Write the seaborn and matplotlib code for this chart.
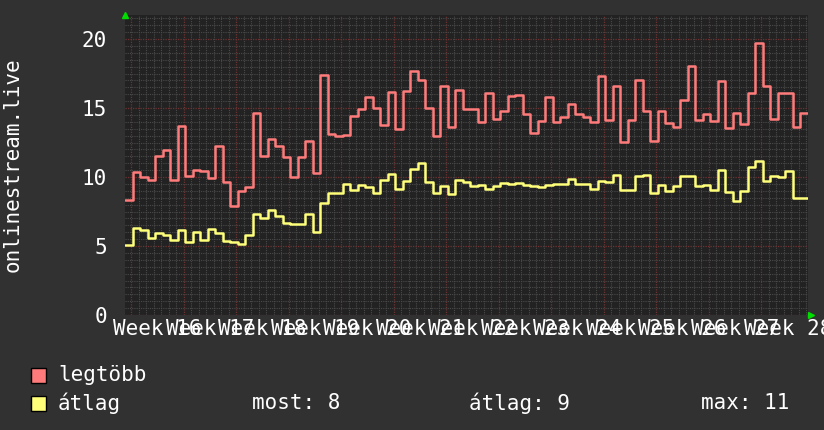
import numpy as np
import pandas as pd
import matplotlib
matplotlib.use("Agg")
import matplotlib.pyplot as plt
from matplotlib.patches import Rectangle
import seaborn as sns

# daily values (13 weeks, 91 days)
legtobb = [8.33, 10.34, 10.02, 9.78, 11.52, 11.96, 9.78, 13.7, 10.07, 10.5, 10.43, 9.95, 12.25, 9.66, 7.92,
           9.0, 9.3, 14.66, 11.52, 12.78, 12.25, 11.47, 10.02, 11.43, 12.63, 10.31, 17.4, 13.1, 12.97, 13.07,
           14.42, 14.9, 15.82, 14.98, 13.74, 16.16, 13.5, 16.26, 17.7, 17.03, 15.0, 12.97, 16.6, 13.6, 16.3, 14.93,
           14.95, 13.99, 16.11, 14.23, 14.76, 15.87, 15.97, 14.57, 13.21, 14.08, 15.82, 13.99, 14.32, 15.29, 14.57,
           14.37, 14.01, 17.32, 14.13, 16.6, 12.54, 14.13, 17.03, 14.81, 12.63, 14.81, 13.94, 13.65, 15.58, 18.04,
           14.13, 14.57, 14.08, 16.98, 13.55, 14.66, 13.84, 16.06, 19.73, 16.62, 14.23, 16.11, 16.06, 13.65, 14.66]
atlag = [5.07, 6.3, 6.16, 5.6, 5.97, 5.82, 5.43, 6.16, 5.27, 6.01, 5.43, 6.26, 5.97, 5.39, 5.27,
         5.17, 5.82, 7.29, 7.03, 7.61, 7.2, 6.64, 6.57, 6.57, 7.29, 5.99, 8.12, 8.86, 8.86, 9.49,
         9.06, 9.42, 9.25, 8.82, 9.78, 10.22, 9.13, 9.73, 10.56, 11.01, 9.64, 8.86, 9.37, 8.79, 9.78, 9.66,
         9.35, 9.44, 9.15, 9.35, 9.59, 9.49, 9.59, 9.42, 9.35, 9.28, 9.44, 9.49, 9.52, 9.88, 9.49,
         9.49, 9.15, 9.71, 9.64, 10.14, 9.06, 9.06, 10.1, 10.14, 8.82, 9.42, 9.01, 9.37, 10.07, 10.07,
         9.35, 9.4, 9.06, 10.51, 8.91, 8.29, 8.99, 10.7, 11.16, 9.71, 10.1, 10.02, 10.43, 8.48, 8.48]
week_labels = ["Week %d" % w for w in range(16, 29)]
yticks = [0, 5, 10, 15, 20]
legend_stats = ["most: 8", "átlag: 9", "max: 11"]

RED = "#ff7b7b"
YEL = "#ffff7a"
BG = "#313131"
PLOT_BG = "#222222"
MONO = "DejaVu Sans Mono"

# long table for seaborn, last value repeated so the final step is drawn
n = len(legtobb)
days = np.arange(n + 1)
df = pd.concat([
    pd.DataFrame({"day": days, "value": legtobb + [legtobb[-1]], "series": "legtöbb"}),
    pd.DataFrame({"day": days, "value": atlag + [atlag[-1]], "series": "átlag"}),
])

sns.set_style("dark")
plt.rcParams["font.family"] = [MONO, "DejaVu Sans"]

fig = plt.figure(figsize=(8.24, 4.30), dpi=100, facecolor=BG)
ax = fig.add_axes([125 / 824, 1 - 315 / 430, 683 / 824, 300 / 430])
ax.set_facecolor(PLOT_BG)

sns.lineplot(data=df, x="day", y="value", hue="series", palette=[RED, YEL],
             estimator=None, drawstyle="steps-post", linewidth=1.8, legend=False, ax=ax, zorder=3)

ax.set_xlim(0, n)
ax.set_ylim(0, 21.74)

# grid: days / half units minor, weeks / 5 units major
offset = 0.8
ax.set_xticks(np.arange(offset, n, 7))
ax.set_xticks(np.arange(offset, n, 1), minor=True)
ax.set_yticks(yticks)
ax.set_yticks(np.arange(0, 21.74, 0.5), minor=True)
ax.grid(which="minor", color="#4a4a4a", linestyle=(0, (1, 1)), linewidth=0.8, zorder=0)
ax.grid(which="major", color="#6e3232", linestyle=(0, (1, 1)), linewidth=0.9, zorder=1)
ax.set_axisbelow(True)
ax.tick_params(which="both", length=0)
ax.tick_params(axis="y", pad=13, labelsize=15, labelcolor="white")
ax.set_xticklabels([])
for sp in ax.spines.values():
    sp.set_visible(False)

# overlapping week labels centred between week lines, as in the original
for i, lab in enumerate(week_labels):
    ax.text(offset + 3.5 + 7 * i, -0.3, lab, ha="center", va="top", fontsize=15,
            color="white", family=MONO, clip_on=False)

ax.set_xlabel("")
ax.set_ylabel("")
fig.text(13 / 824, 1 - 165 / 430, "onlinestream.live", rotation=90, ha="center", va="center",
         fontsize=15, color="white", family=MONO)

# small green axis arrows
ax.plot([0], [1.0], marker="^", color="#00dd00", markersize=5, transform=ax.transAxes, clip_on=False)
ax.plot([1.004], [0], marker=">", color="#00dd00", markersize=5, transform=ax.transAxes, clip_on=False)

# legend drawn like rrdtool
for yy, col, name in [(375, RED, "legtöbb"), (403, YEL, "átlag")]:
    fig.patches.append(Rectangle((31 / 824, 1 - (yy + 8) / 430), 15 / 824, 15 / 430,
                                 transform=fig.transFigure, facecolor=col, edgecolor="black", linewidth=1))
    fig.text(58 / 824, 1 - yy / 430, name, ha="left", va="center", fontsize=15, color="white", family=MONO)
for xx, txt in zip([252, 469, 701], legend_stats):
    fig.text(xx / 824, 1 - 403 / 430, txt, ha="left", va="center", fontsize=15, color="white", family=MONO)

fig.savefig("out.png", dpi=100, facecolor=BG)
